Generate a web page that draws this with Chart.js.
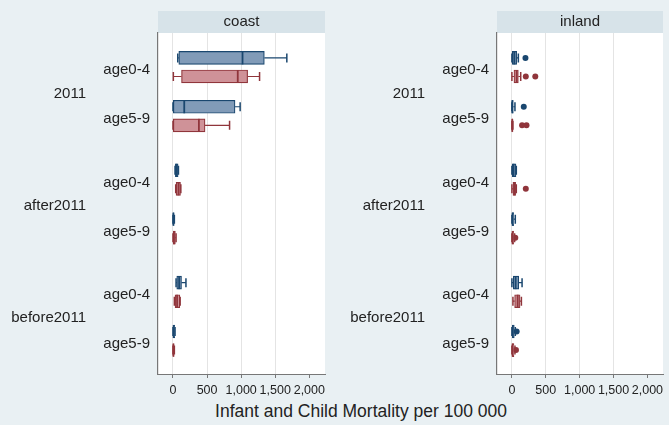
<!DOCTYPE html>
<html>
<head>
<meta charset="utf-8">
<script src="https://cdn.jsdelivr.net/npm/chart.js@4.4.1/dist/chart.umd.min.js"></script>
<style>
body{margin:0;background:#e9f0f3;width:669px;height:425px;overflow:hidden;font-family:"Liberation Sans",Arial,sans-serif}
#wrap{position:relative;width:669px;height:425px}
#c1{position:absolute;left:0;top:0}
#c2{position:absolute;left:334px;top:0}
#xtitle{position:absolute;left:0;width:722px;top:401px;text-align:center;font-size:17.5px;color:#222}
</style>
</head>
<body>
<div id="wrap">
<canvas id="c1" width="334" height="400"></canvas>
<canvas id="c2" width="335" height="400"></canvas>
<div id="xtitle">Infant and Child Mortality per 100 000</div>
</div>
<script>
// categories
const groups = ['2011', 'after2011', 'before2011']
const ages = ['age0-4', 'age5-9']
const panels = ['coast', 'inland']
const xTicks = [0, 500, 1000, 1500, 2000]

// rows: 2011/age0-4, 2011/age5-9, after/age0-4, after/age5-9, before/age0-4, before/age5-9
// each row: [min, q1, median, q3, max]
const coastBlue = [
	[70, 85, 1020, 1340, 1670],
	[0, 5, 165, 910, 985],
	[30, 35, 50, 75, 80],
	[0, 0, 5, 15, 20],
	[45, 55, 90, 125, 190],
	[0, 0, 10, 25, 30]
]
const coastRed = [
	[5, 125, 950, 1095, 1270],
	[0, 5, 380, 470, 830],
	[40, 45, 80, 110, 115],
	[0, 5, 15, 35, 45],
	[20, 30, 60, 100, 105],
	[0, 0, 5, 15, 20]
]
const inlandBlue = [
	[0, 5, 35, 70, 95],
	[0, 0, 5, 20, 45],
	[0, 5, 25, 60, 65],
	[0, 0, 10, 25, 50],
	[0, 20, 55, 100, 150],
	[0, 0, 15, 35, 50]
]
const inlandRed = [
	[0, 30, 70, 95, 130],
	[0, 0, 5, 10, 15],
	[0, 15, 35, 55, 65],
	[0, 0, 10, 25, 40],
	[15, 40, 85, 120, 140],
	[0, 0, 10, 30, 45]
]
// outside values per row
const coastBlueOut = [[], [], [], [], [], []]
const coastRedOut = [[], [], [], [], [], []]
const inlandBlueOut = [[200], [175], [], [], [], [70]]
const inlandRedOut = [[205, 345], [150, 215], [205], [50], [], [60]]

const navy = '#1a476f', navyFill = '#819bb8'
const maroon = '#90353b', maroonFill = '#cf9298'
const groupStep = 2.3, pairOff = 0.19

let rowPos = []
groups.forEach((g, gi) => ages.forEach((a, ai) => rowPos.push(gi * groupStep + ai)))
let groupPos = groups.map((g, gi) => gi * groupStep + 0.5)

let boxSet = (stats, off, edge, fill) => ({
	type: 'bar',
	indexAxis: 'y',
	grouped: false,
	barThickness: 13,
	borderWidth: 1.2,
	borderSkipped: false,
	borderColor: edge,
	backgroundColor: fill,
	stats: stats,
	off: off,
	data: stats.map((s, i) => ({x: [s[1], s[3]], y: rowPos[i] + off}))
})
let outSet = (outs, off, edge) => {
	let pts = []
	outs.forEach((o, i) => o.forEach(v => pts.push({x: v, y: rowPos[i] + off})))
	return {type: 'scatter', data: pts, pointRadius: 3, backgroundColor: edge, borderWidth: 0}
}

// whiskers under the boxes, caps and medians on top
let whiskers = {
	id: 'whiskers',
	beforeDatasetsDraw(chart) {
		let c = chart.ctx, xs = chart.scales.x, ys = chart.scales.y
		chart.data.datasets.forEach(ds => {
			if (!ds.stats) return
			c.save()
			c.strokeStyle = ds.borderColor
			c.lineWidth = 1.2
			ds.stats.forEach((s, i) => {
				let y = ys.getPixelForValue(rowPos[i] + ds.off)
				c.beginPath()
				c.moveTo(xs.getPixelForValue(s[0]), y); c.lineTo(xs.getPixelForValue(s[1]), y)
				c.moveTo(xs.getPixelForValue(s[3]), y); c.lineTo(xs.getPixelForValue(s[4]), y)
				c.stroke()
			})
			c.restore()
		})
	},
	afterDatasetsDraw(chart) {
		let c = chart.ctx, xs = chart.scales.x, ys = chart.scales.y
		chart.data.datasets.forEach(ds => {
			if (!ds.stats) return
			c.save()
			c.strokeStyle = ds.borderColor
			ds.stats.forEach((s, i) => {
				let y = ys.getPixelForValue(rowPos[i] + ds.off)
				c.lineWidth = 1.5
				c.beginPath()
				;[s[0], s[4]].forEach(v => {
					let x = xs.getPixelForValue(v)
					c.moveTo(x, y - 4.5); c.lineTo(x, y + 4.5)
				})
				c.stroke()
				c.lineWidth = 1.8
				c.beginPath()
				let xm = xs.getPixelForValue(s[2])
				c.moveTo(xm, y - 6.5); c.lineTo(xm, y + 6.5)
				c.stroke()
			})
			c.restore()
		})
	}
}

let header = {
	id: 'header',
	beforeDraw(chart, args, opts) {
		let c = chart.ctx, a = chart.chartArea
		c.save()
		c.fillStyle = '#fff'
		c.fillRect(a.left, a.top, a.right - a.left, a.bottom - a.top)
		c.fillStyle = '#d7e3e9'
		c.fillRect(a.left, a.top - 22, a.right - a.left, 22)
		c.fillStyle = '#222'
		c.font = '15px "Liberation Sans", Arial, sans-serif'
		c.textAlign = 'center'
		c.textBaseline = 'middle'
		c.fillText(opts.text, (a.left + a.right) / 2, a.top - 11)
		c.restore()
	}
}

let makeChart = (id, name, blue, red, blueOut, redOut, groupW, rightPad) => {
	let font = {family: '"Liberation Sans", Arial, sans-serif', size: 15}
	return new Chart(document.getElementById(id), {
		type: 'scatter',
		data: {
			datasets: [
				boxSet(blue, -pairOff, navy, navyFill),
				boxSet(red, pairOff, maroon, maroonFill),
				outSet(blueOut, -pairOff, navy),
				outSet(redOut, pairOff, maroon)
			]
		},
		plugins: [header, whiskers],
		options: {
			responsive: false,
			animation: false,
			layout: {padding: {top: 33, right: rightPad, bottom: 0, left: 0}},
			plugins: {legend: {display: false}, tooltip: {enabled: false}, header: {text: name}},
			scales: {
				x: {
					type: 'linear', min: -220, max: 2230, offset: false,
					afterBuildTicks: s => { s.ticks = xTicks.map(v => ({value: v})) },
					afterFit: s => { s.height = 26 },
					grid: {
						offset: false,
						color: ctx => (ctx.tick && ctx.tick.value === 2000) ? 'rgba(0,0,0,0)' : '#e4e4e4',
						tickColor: '#777', tickLength: 4
					},
					border: {display: true, color: '#777', width: 1},
					ticks: {
						padding: 5, color: '#222', maxRotation: 0,
						font: {family: font.family, size: 12.5},
						callback: v => v.toLocaleString('en-US')
					}
				},
				y: {
					type: 'linear', reverse: true, min: -0.7, max: 6.28, offset: false,
					afterBuildTicks: s => { s.ticks = rowPos.map(v => ({value: v})) },
					afterFit: s => { s.width = 68 },
					grid: {display: false, drawTicks: false, offset: false},
					border: {display: true, color: '#777', width: 1.2},
					ticks: {padding: 8, labelOffset: 3, color: '#222', font: font, callback: (v, i) => ages[i % 2]}
				},
				yg: {
					type: 'linear', position: 'left', weight: 1, reverse: true, min: -0.7, max: 6.28, offset: false,
					afterBuildTicks: s => { s.ticks = groupPos.map(v => ({value: v})) },
					afterFit: s => { s.width = groupW },
					grid: {display: false, drawTicks: false, offset: false},
					border: {display: false},
					ticks: {padding: 4, labelOffset: 2, color: '#222', font: font, callback: (v, i) => groups[i]}
				}
			}
		}
	})
}

makeChart('c1', panels[0], coastBlue, coastRed, coastBlueOut, coastRedOut, 90, 9)
makeChart('c2', panels[1], inlandBlue, inlandRed, inlandBlueOut, inlandRedOut, 95, 6)
</script>
</body>
</html>
